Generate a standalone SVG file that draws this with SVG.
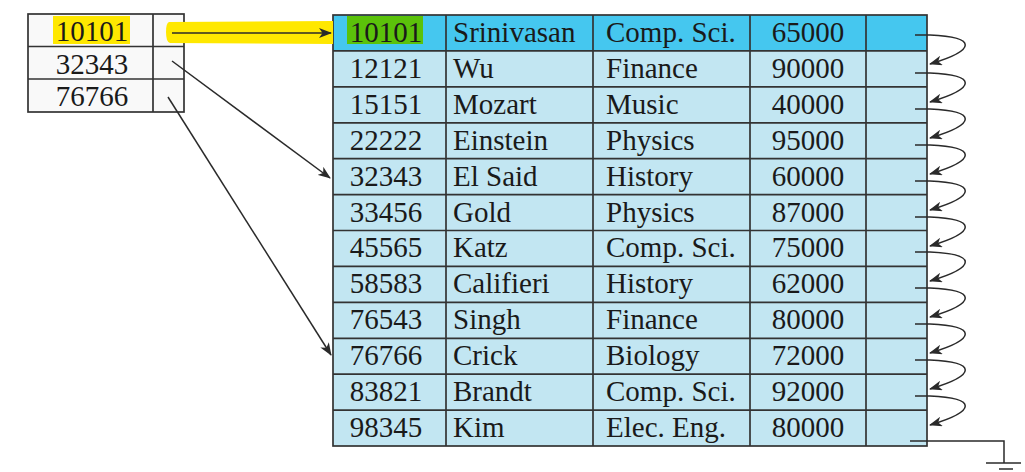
<svg xmlns="http://www.w3.org/2000/svg" width="1025" height="472" viewBox="0 0 1025 472">
<defs>
<marker id="ah" markerWidth="14" markerHeight="10" refX="12" refY="5" orient="auto" markerUnits="userSpaceOnUse">
<path d="M0,0 L13,5 L0,10 L3.5,5 z" fill="#2a2a2a"/>
</marker>
</defs>
<style>
text{font-family:"Liberation Serif","Times New Roman",serif;font-size:29px;fill:#1a1a1a}
.c{text-anchor:middle}
.grid{stroke:#333;stroke-width:1.7;fill:none}
.row{fill:#c2e6f2}
.con{stroke:#2a2a2a;stroke-width:1.5;fill:none}
</style>
<rect width="1025" height="472" fill="#fff"/>
<g id="index">
<rect x="28" y="14" width="156" height="98" fill="#f9f9f9"/>
<rect x="53" y="16" width="77" height="28" fill="#ffe800"/>
<rect x="28" y="14" width="156" height="98" class="grid"/>
<line x1="28" y1="46.5" x2="184" y2="46.5" class="grid"/>
<line x1="28" y1="79" x2="184" y2="79" class="grid"/>
<line x1="153" y1="14" x2="153" y2="112" class="grid"/>
<text x="92" y="41" class="c">10101</text>
<text x="92" y="74" class="c">32343</text>
<text x="92" y="106" class="c">76766</text>
</g>
<g id="relation">
<rect x="333" y="15" width="594" height="431" class="row"/>
<rect x="333" y="15" width="594" height="36" fill="#45c7ef"/>
<rect x="347" y="16" width="76" height="28" fill="#5bc20a"/>
<g class="grid">
<rect x="333" y="15" width="594" height="431"/>
<line x1="333" y1="50.9" x2="927" y2="50.9"/>
<line x1="333" y1="86.8" x2="927" y2="86.8"/>
<line x1="333" y1="122.8" x2="927" y2="122.8"/>
<line x1="333" y1="158.7" x2="927" y2="158.7"/>
<line x1="333" y1="194.6" x2="927" y2="194.6"/>
<line x1="333" y1="230.5" x2="927" y2="230.5"/>
<line x1="333" y1="266.4" x2="927" y2="266.4"/>
<line x1="333" y1="302.4" x2="927" y2="302.4"/>
<line x1="333" y1="338.3" x2="927" y2="338.3"/>
<line x1="333" y1="374.2" x2="927" y2="374.2"/>
<line x1="333" y1="410.1" x2="927" y2="410.1"/>
<line x1="446" y1="15" x2="446" y2="446"/>
<line x1="593" y1="15" x2="593" y2="446"/>
<line x1="750" y1="15" x2="750" y2="446"/>
<line x1="866" y1="15" x2="866" y2="446"/>
</g>
<g id="r1"><text x="386" y="42" class="c">10101</text><text x="453" y="42">Srinivasan</text><text x="606" y="42">Comp. Sci.</text><text x="808" y="42" class="c">65000</text></g>
<g id="r2"><text x="386" y="78" class="c">12121</text><text x="453" y="78">Wu</text><text x="606" y="78">Finance</text><text x="808" y="78" class="c">90000</text></g>
<g id="r3"><text x="386" y="114" class="c">15151</text><text x="453" y="114">Mozart</text><text x="606" y="114">Music</text><text x="808" y="114" class="c">40000</text></g>
<g id="r4"><text x="386" y="150" class="c">22222</text><text x="453" y="150">Einstein</text><text x="606" y="150">Physics</text><text x="808" y="150" class="c">95000</text></g>
<g id="r5"><text x="386" y="186" class="c">32343</text><text x="453" y="186">El Said</text><text x="606" y="186">History</text><text x="808" y="186" class="c">60000</text></g>
<g id="r6"><text x="386" y="222" class="c">33456</text><text x="453" y="222">Gold</text><text x="606" y="222">Physics</text><text x="808" y="222" class="c">87000</text></g>
<g id="r7"><text x="386" y="257" class="c">45565</text><text x="453" y="257">Katz</text><text x="606" y="257">Comp. Sci.</text><text x="808" y="257" class="c">75000</text></g>
<g id="r8"><text x="386" y="293" class="c">58583</text><text x="453" y="293">Califieri</text><text x="606" y="293">History</text><text x="808" y="293" class="c">62000</text></g>
<g id="r9"><text x="386" y="329" class="c">76543</text><text x="453" y="329">Singh</text><text x="606" y="329">Finance</text><text x="808" y="329" class="c">80000</text></g>
<g id="r10"><text x="386" y="365" class="c">76766</text><text x="453" y="365">Crick</text><text x="606" y="365">Biology</text><text x="808" y="365" class="c">72000</text></g>
<g id="r11"><text x="386" y="401" class="c">83821</text><text x="453" y="401">Brandt</text><text x="606" y="401">Comp. Sci.</text><text x="808" y="401" class="c">92000</text></g>
<g id="r12"><text x="386" y="437" class="c">98345</text><text x="453" y="437">Kim</text><text x="606" y="437">Elec. Eng.</text><text x="808" y="437" class="c">80000</text></g>
</g>
<g id="connectors">
<path d="M169,22 Q166,23 166,32 Q166,42 170,43 L333,44 L333,21 Z" fill="#ffe800"/>
<line x1="172" y1="33" x2="331" y2="33" class="con" marker-end="url(#ah)"/>
<line x1="172" y1="61" x2="330" y2="178" class="con" marker-end="url(#ah)"/>
<line x1="168" y1="97" x2="331" y2="355" class="con" marker-end="url(#ah)"/>
<path class="con" marker-end="url(#ah)" d="M915,35 L930,35 C977,37 977,50 930,64"/>
<path class="con" marker-end="url(#ah)" d="M915,73 L930,73 C977,75 977,88 930,102"/>
<path class="con" marker-end="url(#ah)" d="M915,109 L930,109 C977,111 977,124 930,138"/>
<path class="con" marker-end="url(#ah)" d="M915,145 L930,145 C977,147 977,160 930,174"/>
<path class="con" marker-end="url(#ah)" d="M915,181 L930,181 C977,183 977,196 930,210"/>
<path class="con" marker-end="url(#ah)" d="M915,217 L930,217 C977,219 977,232 930,246"/>
<path class="con" marker-end="url(#ah)" d="M915,252 L930,252 C977,254 977,267 930,281"/>
<path class="con" marker-end="url(#ah)" d="M915,288 L930,288 C977,290 977,303 930,317"/>
<path class="con" marker-end="url(#ah)" d="M915,324 L930,324 C977,326 977,339 930,353"/>
<path class="con" marker-end="url(#ah)" d="M915,360 L930,360 C977,362 977,375 930,389"/>
<path class="con" marker-end="url(#ah)" d="M915,396 L930,396 C977,398 977,411 930,425"/>
<path class="con" d="M910,441 L1004,441 L1004,463"/>
<line x1="986" y1="463" x2="1021" y2="463" class="con" stroke-width="1.8"/>
<line x1="999" y1="469" x2="1013" y2="469" class="con" stroke-width="1.8"/>
</g>
</svg>
